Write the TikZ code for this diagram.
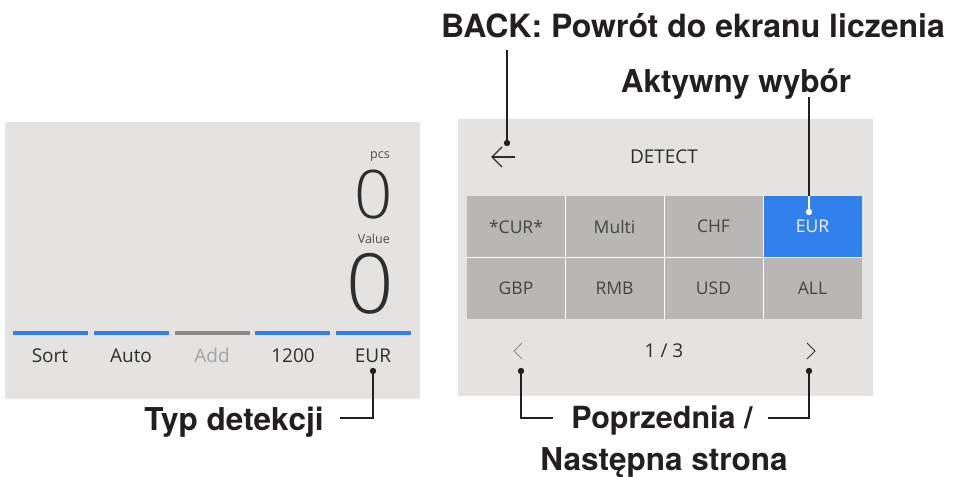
\documentclass[tikz,border=0pt]{standalone}
\usepackage{fontspec}
\setmainfont{Open Sans}
\newfontfamily\lightfont[UprightFont={* Light}]{Open Sans}
\newfontfamily\lblfont{TeX Gyre Heros}
\definecolor{panel}{HTML}{E4E3E2}
\definecolor{cellgrey}{HTML}{B8B7B6}
\definecolor{uiblue}{HTML}{3280EC}
\definecolor{bargrey}{HTML}{8C8B8A}
\definecolor{uitext}{HTML}{2E2E2E}
\definecolor{celltext}{HTML}{444444}
\definecolor{dimtext}{HTML}{A3A3A3}
\definecolor{lbltext}{HTML}{231F20}
\tikzset{
  lbl/.style={font=\lblfont\bfseries\fontsize{31.5}{35}\selectfont, text=lbltext, inner sep=0pt},
  ui/.style={font=\fontsize{19}{21}\selectfont, text=uitext, inner sep=0pt},
  small/.style={font=\fontsize{12.5}{14}\selectfont, text=uitext!85, inner sep=0pt},
  big/.style={text=uitext, inner sep=0pt},
  cell/.style={fill=cellgrey, minimum width=98pt, minimum height=61pt, inner sep=0pt,
    font=\fontsize{17.5}{19}\selectfont, text=celltext},
  conn/.style={draw=lbltext, line width=1.4pt},
  dot/.style={fill=lbltext},
  bar/.style={line width=4pt, draw=uiblue}
}
\begin{document}
\begin{tikzpicture}[x=1pt,y=-1pt]
\useasboundingbox (0,0) rectangle (954,477);

% ---------- left panel ----------
\fill[panel] (5,122) rectangle (420,399);
\draw[bar] (13,333) -- (88,333);
\draw[bar] (94,333) -- (169,333);
\draw[bar, draw=bargrey] (175,333) -- (250,333);
\draw[bar] (255,333) -- (330,333);
\draw[bar] (336,333) -- (411,333);

\node[ui, anchor=base] (sort) at (50,362) {Sort};
\node[ui, anchor=base] (auto) at (131,362) {Auto};
\node[ui, anchor=base, text=dimtext] (add) at (212,362) {Add};
\node[ui, anchor=base] (n1200) at (293,362) {1200};
\node[ui, anchor=base] (eurL) at (373,362) {EUR};

\node[small, anchor=base east] (pcs) at (390,158) {pcs};
\node[big, anchor=base east, font=\lightfont\fontsize{67}{67}\selectfont] (zero1) at (393,218) {0};
\node[small, anchor=base east] (value) at (390,243) {Value};
\node[big, anchor=base east, font=\lightfont\fontsize{83}{83}\selectfont] (zero2) at (394,313) {0};

% ---------- right panel ----------
\fill[panel] (458,119) rectangle (873,396);
% back arrow
\coordinate (backarrow) at (503,157);
\draw[uitext, line width=1.1pt] (515,157) -- (492,157);
\draw[uitext, line width=1.1pt] (502,147) -- (492,157) -- (502,167);
\node[ui] (detect) at (664,157) {DETECT};

% grid
\node[cell] (c11) at (516,226.5) {*CUR*};
\node[cell] (c12) at (614.5,226.5) {Multi};
\node[cell] (c13) at (713.5,226.5) {CHF};
\node[cell, fill=uiblue, text=white!92!uiblue] (c14) at (812.5,226.5) {EUR};
\node[cell] (c21) at (516,288) {GBP};
\node[cell] (c22) at (614.5,288) {RMB};
\node[cell] (c23) at (713.5,288) {USD};
\node[cell] (c24) at (812.5,288) {ALL};
\draw[white, line width=0.8pt] (467,257) -- (862,257);
\draw[white, line width=0.8pt] (565,196) -- (565,319);
\draw[white, line width=0.8pt] (664,196) -- (664,319);
\draw[white, line width=0.8pt] (763,196) -- (763,319);

% pagination
\draw[uitext!55, line width=1pt] (522,343) -- (514,351) -- (522,359);
\coordinate (prevch) at (518,351);
\draw[uitext, line width=1pt] (807,343) -- (815,351) -- (807,359);
\coordinate (nextch) at (811,351);
\node[ui] (pg) at (664,351) {1 / 3};

% ---------- labels ----------
\node[lbl, anchor=base, font=\lblfont\bfseries\fontsize{32}{35}\selectfont] (back) at (693,37) {BACK: Powrót do ekranu liczenia};
\node[lbl, anchor=base] (akt) at (736,92) {Aktywny wybór};
\node[lbl, anchor=base] (typ) at (234,430) {Typ detekcji};
\node[lbl, anchor=base, font=\lblfont\bfseries\fontsize{30.5}{35}\selectfont] (prev) at (662,428) {Poprzednia /};
\node[lbl, anchor=base] (nextlbl) at (664,470) {Następna strona};

% connector points
\coordinate (backdot) at (507,143);
\coordinate (backtop) at (507,50);
\coordinate (aktdot) at (809,212);
\coordinate (akttop) at (809,97);
\coordinate (aktedge) at (809,196);
\coordinate (eurdot) at (373,371);
\coordinate (typend) at (340,418);
\coordinate (prevdot) at (521,371);
\coordinate (prevend) at (553,418);
\coordinate (nextdot) at (809,371);
\coordinate (nextend) at (768,418);

\draw[conn] (backtop) -- (backdot);
\fill[dot] (backdot) circle (3.2pt);
\draw[conn] (akttop) -- (aktedge);
\draw[line width=1.4pt, white] (aktedge) -- (aktdot);
\fill[white] (aktdot) circle (3.2pt);
\draw[conn] (eurdot) |- (typend);
\fill[dot] (eurdot) circle (3.2pt);
\draw[conn] (prevdot) |- (prevend);
\fill[dot] (prevdot) circle (3.2pt);
\draw[conn] (nextdot) |- (nextend);
\fill[dot] (nextdot) circle (3.2pt);
\end{tikzpicture}
\end{document}
